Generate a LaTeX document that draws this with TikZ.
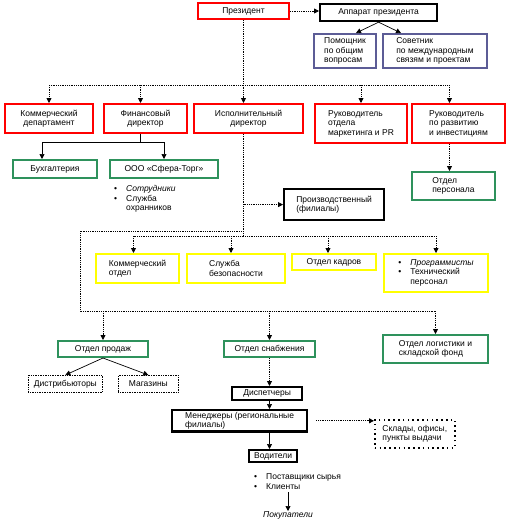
\documentclass[tikz,border=0pt]{standalone}
\usepackage{fontspec}
\setmainfont{Liberation Sans}
\usetikzlibrary{arrows.meta}

\definecolor{boxred}{RGB}{255,0,0}
\definecolor{boxblue}{RGB}{92,92,150}
\definecolor{boxgreen}{RGB}{46,146,92}
\definecolor{boxyellow}{RGB}{255,255,0}

\begin{document}
\begin{tikzpicture}[x=1pt,y=-1pt]
  \tikzset{
    unit/.style={anchor=north west, fill=white, line width=2pt, inner sep=2pt,
      font=\fontsize{8.5}{9.5}\selectfont, align=center},
    redunit/.style={unit, draw=boxred},
    blueunit/.style={unit, draw=boxblue, align=left},
    greenunit/.style={unit, draw=boxgreen},
    yellowunit/.style={unit, draw=boxyellow, align=left},
    blackunit/.style={unit, draw=black, line width=2.2pt},
    dotunit/.style={unit, draw=black, line width=0.7pt, densely dotted},
    bigdotunit/.style={unit, draw=black, line width=1.6pt, dash pattern=on 1.6pt off 3.2pt},
    note/.style={anchor=north west, inner sep=0pt, font=\fontsize{8.5}{9.5}\selectfont},
    link/.style={densely dotted, line width=0.8pt},
    tip/.style={-{Triangle[width=5pt,length=5pt]}},
    linkarrow/.style={link, tip},
    solidarrow/.style={line width=0.7pt, tip},
  }
  \useasboundingbox (0,0) rectangle (508,528);

  % top
  \node[redunit, minimum width=91pt, minimum height=16pt] (pres) at (197,2) {Президент};
  \node[blackunit, minimum width=117pt, minimum height=17pt] (app) at (319,3) {Аппарат президента};
  \node[blueunit, minimum width=62pt, minimum height=34pt] (pom) at (313,33) {Помощник\\по общим\\вопросам};
  \node[blueunit, minimum width=104pt, minimum height=34pt] (sov) at (382,33) {Советник\\по международным\\связям и проектам};

  % directors
  \node[redunit, minimum width=88pt, minimum height=29pt] (kom) at (4,103) {Коммерческий\\департамент};
  \node[redunit, minimum width=83pt, minimum height=29pt] (fin) at (103,103) {Финансовый\\директор};
  \node[redunit, minimum width=109pt, minimum height=29pt] (isp) at (193,103) {Исполнительный\\директор};
  \node[redunit, minimum width=92pt, minimum height=39pt, align=left] (mark) at (314,103) {Руководитель\\отдела\\маркетинга и PR};
  \node[redunit, minimum width=93pt, minimum height=39pt, align=left] (razv) at (411,103) {Руководитель\\по развитию\\и инвестициям};

  % finance
  \node[greenunit, minimum width=84pt, minimum height=18pt] (buh) at (12,159) {Бухгалтерия};
  \node[greenunit, minimum width=108pt, minimum height=18pt] (ooo) at (109,159) {ООО «Сфера-Торг»};
  \node[note] (staff) at (114,185) {\begin{tabular}{@{}l@{\hspace{9pt}}l@{}}
    \textbullet & \textit{Сотрудники}\\
    \textbullet & Служба\\
                & охранников
  \end{tabular}};
  \node[greenunit, minimum width=83pt, minimum height=28pt, align=left] (sklbuh) at (411,171) {Отдел\\персонала};

  % executive
  \node[blackunit, minimum width=100pt, minimum height=31pt, align=left] (proizv) at (283,188) {Производственный\\(филиалы)};
  \node[yellowunit, minimum width=83pt, minimum height=29pt] (komotd) at (95,253) {Коммерческий\\отдел};
  \node[yellowunit, minimum width=98pt, minimum height=29pt] (sb) at (186,253) {Служба\\безопасности};
  \node[yellowunit, minimum width=84pt, minimum height=16pt] (kadr) at (291,253) {Отдел кадров};
  \node[yellowunit, minimum width=104pt, minimum height=38pt] (it) at (383,253) {\begin{tabular}{@{}l@{\hspace{9pt}}l@{}}
    \textbullet & \textit{Программисты}\\
    \textbullet & Технический\\
                & персонал
  \end{tabular}};

  % departments
  \node[greenunit, minimum width=90pt, minimum height=16pt] (prod) at (57,340) {Отдел продаж};
  \node[greenunit, minimum width=91pt, minimum height=16pt] (snab) at (223,340) {Отдел снабжения};
  \node[greenunit, minimum width=105pt, minimum height=28pt, align=left] (log) at (382,334) {Отдел логистики и\\складской фонд};
  \node[dotunit, minimum width=74pt, minimum height=17pt] (dist) at (28,375) {Дистрибьюторы};
  \node[dotunit, minimum width=60pt, minimum height=17pt] (mag) at (118,375) {Магазины};
  \node[blackunit, minimum width=70pt, minimum height=13pt] (disp) at (231,386) {Диспетчеры};
  \node[blackunit, minimum width=135pt, minimum height=20pt, align=left] (men) at (171,409) {Менеджеры (региональные\\филиалы)};
  \node[bigdotunit, minimum width=80pt, minimum height=28pt, align=left] (skl) at (374,419) {Склады, офисы,\\пункты выдачи};
  \node[blackunit, minimum width=48pt, minimum height=12pt] (vod) at (248,449) {Водители};
  \node[note] (post) at (254,473) {\begin{tabular}{@{}l@{\hspace{9pt}}l@{}}
    \textbullet & Поставщики сырья\\
    \textbullet & Клиенты
  \end{tabular}};
  \node[note, anchor=north] (pok) at (288,511) {\textit{Покупатели}};

  \coordinate (dbar) at (0,85);
  \coordinate (fbar) at (0,142);
  \coordinate (etop) at (80,231);
  \coordinate (ebot) at (80,311);
  \coordinate (ybar) at (0,236);

  % connectors
  \draw[linkarrow] (pres.east) -- (app.west |- pres.east);
  \draw[solidarrow] (app.south) -- ([xshift=11pt]pom.north);
  \draw[solidarrow] (app.south) -- ([xshift=-34pt]sov.north);
  \draw[linkarrow] (pres.south) -- (pres.south |- isp.north);
  \draw[link] (kom.north |- dbar) -- ([xshift=-9pt]razv.north |- dbar);
  \draw[linkarrow] (kom.north |- dbar) -- (kom.north);
  \draw[linkarrow] ([xshift=-5pt]fin.north |- dbar) -- ([xshift=-5pt]fin.north);
  \draw[linkarrow] (mark.north |- dbar) -- (mark.north);
  \draw[linkarrow] ([xshift=-9pt]razv.north |- dbar) -- ([xshift=-9pt]razv.north);
  \draw[linkarrow] ([xshift=-9pt]razv.south) -- ([xshift=-9pt]razv.south |- sklbuh.north);

  \draw[line width=0.7pt] ([xshift=-5pt]fin.south) -- ([xshift=-5pt]fin.south |- fbar);
  \draw[line width=0.7pt] ([xshift=-13pt]buh.north |- fbar) -- (ooo.north |- fbar);
  \draw[solidarrow] ([xshift=-13pt]buh.north |- fbar) -- ([xshift=-13pt]buh.north);
  \draw[solidarrow] (ooo.north |- fbar) -- (ooo.north);

  \draw[link] (pres.south |- isp.south) -- (pres.south |- ybar);
  \draw[linkarrow] (pres.south |- proizv.west) -- (proizv.west);
  \draw[link] (pres.south |- etop) -- (etop) -- (ebot) -- (log.north |- ebot);
  \draw[link] ([xshift=-4pt]komotd.north |- ybar) -- (it.north |- ybar);
  \draw[linkarrow] ([xshift=-4pt]komotd.north |- ybar) -- ([xshift=-4pt]komotd.north);
  \draw[linkarrow] ([xshift=-5pt]sb.north |- ybar) -- ([xshift=-5pt]sb.north);
  \draw[linkarrow] ([xshift=-6pt]kadr.north |- ybar) -- ([xshift=-6pt]kadr.north);
  \draw[linkarrow] (it.north |- ybar) -- (it.north);

  \draw[linkarrow] (prod.north |- ebot) -- (prod.north);
  \draw[linkarrow] (snab.north |- ebot) -- (snab.north);
  \draw[linkarrow] (log.north |- ebot) -- (log.north);
  \draw[solidarrow] (prod.south) -- (dist.north);
  \draw[solidarrow] (prod.south) -- (mag.north);
  \draw[linkarrow] (snab.south) -- (snab.south |- disp.north);
  \draw[solidarrow] (snab.south |- disp.south) -- (snab.south |- men.north);
  \draw[linkarrow] ([xshift=8pt]men.east) -- (skl.west |- men.east);
  \draw[solidarrow] (snab.south |- men.south) -- (snab.south |- vod.north);
  \draw[solidarrow] (pok.north |- post.south) -- (pok.north);
\end{tikzpicture}
\end{document}
